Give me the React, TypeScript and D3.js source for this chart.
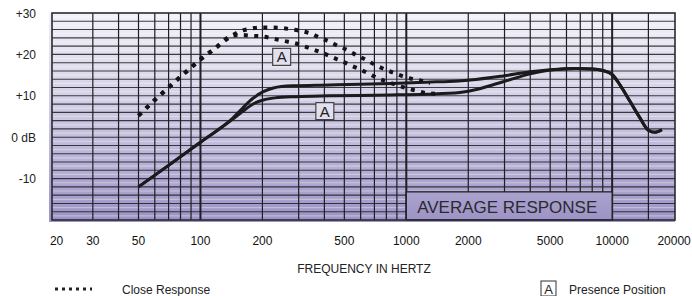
import * as d3 from 'd3';
import { useEffect, useRef } from 'react';

// close response (dotted) - normal and presence position
const closeFreq = [50, 60, 70, 83, 98, 118, 142, 156, 175, 195, 218, 244, 272, 305, 340, 381, 421, 468, 514, 568, 631, 697, 769, 850, 951, 1063, 1189, 1305];
const closeNormal = [5.2, 9.0, 12.0, 15.3, 18.4, 21.5, 24.5, 25.6, 26.2, 26.5, 26.5, 26.4, 26.1, 25.7, 25.1, 24.0, 23.1, 22.0, 21.1, 19.9, 18.8, 17.6, 16.6, 15.7, 14.8, 14.1, 13.6, 13.1];
const closePresenceFreq = [50, 60, 70, 83, 98, 118, 142, 156, 178, 202, 230, 258, 288, 322, 357, 395, 437, 486, 539, 596, 659, 731, 809, 899, 1005, 1124, 1258, 1406, 1470];
const closePresence = [5.2, 9.0, 12.0, 15.3, 18.4, 21.5, 24.5, 24.7, 24.5, 24.3, 23.7, 23.2, 22.7, 21.9, 21.1, 20.3, 19.3, 18.4, 17.3, 16.4, 15.3, 14.2, 13.4, 12.6, 11.8, 11.2, 10.6, 10.5, 10.5];

// average response (solid)
const avgFreq = [50, 70, 100, 142, 160, 180, 202, 226, 280, 420, 600, 850, 1250, 1800, 2040, 2960, 4000, 5000, 6700, 8000, 9000, 9960, 10930, 12230, 13670, 15000, 16170, 17440];
const avgNormal = [-12, -6.8, -1.2, 4.4, 7.0, 9.4, 11.0, 11.9, 12.4, 12.6, 12.8, 13.0, 13.3, 13.6, 13.8, 14.8, 15.8, 16.3, 16.6, 16.5, 16.1, 15.2, 12.6, 8.6, 4.6, 1.7, 1.2, 1.8];
const avgPresenceFreq = [50, 70, 100, 142, 160, 183, 202, 230, 290, 420, 850, 1250, 1820, 2000, 2960, 4000, 5000, 6700, 8000, 9000, 9960, 10930, 12230, 13670, 15000, 16170, 17440];
const avgPresence = [-12, -6.8, -1.2, 4.2, 6.2, 8.2, 9.0, 9.5, 9.8, 10.0, 10.2, 10.4, 10.8, 11.1, 13.4, 15.3, 16.2, 16.6, 16.5, 16.1, 15.2, 12.6, 8.6, 4.6, 1.7, 1.2, 1.8];

const xTicks = [20, 30, 50, 100, 200, 500, 1000, 2000, 5000, 10000, 20000];
const yTicks = [30, 20, 10, 0, -10];
const yTickLabels = ['+30', '+20', '+10', '0 dB', '-10'];
const gridFreqs = [30, 40, 50, 60, 70, 80, 90, 100, 200, 300, 400, 500, 600, 700, 800, 900, 1000, 2000, 3000, 4000, 5000, 6000, 7000, 8000, 9000, 10000, 15000];
const decades = [100, 1000, 10000];

// "A" markers: presence position, in Hz / dB
const presenceMarks = [{ f: 248, db: 19.4 }, { f: 402, db: 6.3 }];

const FONT = '"Liberation Sans", Arial, Helvetica, sans-serif';

export default function App() {
    const ref = useRef<SVGSVGElement | null>(null);

    useEffect(() => {
        const svg = d3.select(ref.current);
        svg.selectAll('*').remove();

        const width = 692;
        const height = 296;
        svg.attr('width', width).attr('height', height);

        const x = d3.scaleLog().domain([19, 20200]).range([52, 675]);
        const y = d3.scaleLinear().domain([-20, 30]).range([220, 13]);

        const grad = svg.append('defs').append('linearGradient')
            .attr('id', 'bg')
            .attr('gradientUnits', 'userSpaceOnUse')
            .attr('x1', 0).attr('y1', y(30))
            .attr('x2', 0).attr('y2', y(-20));
        grad.append('stop').attr('offset', '0%').attr('stop-color', '#f3f2f8');
        grad.append('stop').attr('offset', '50%').attr('stop-color', '#cdc8e2');
        grad.append('stop').attr('offset', '100%').attr('stop-color', '#9d94c6');

        svg.append('rect')
            .attr('x', x.range()[0] - 3).attr('y', y(30))
            .attr('width', x.range()[1] - x.range()[0] + 3)
            .attr('height', y(-20) - y(30) + 2)
            .attr('fill', 'url(#bg)');

        // light stripes between grid lines
        svg.append('g').selectAll('line')
            .data(d3.range(-19, 30, 2))
            .enter().append('line')
            .attr('x1', x.range()[0]).attr('x2', x.range()[1])
            .attr('y1', d => y(d)).attr('y2', d => y(d))
            .attr('stroke', '#ffffff').attr('stroke-opacity', 0.35).attr('stroke-width', 1.2);

        svg.append('g').selectAll('line')
            .data(d3.range(-18, 30, 2))
            .enter().append('line')
            .attr('x1', x.range()[0]).attr('x2', x.range()[1])
            .attr('y1', d => y(d)).attr('y2', d => y(d))
            .attr('stroke', '#1e1e24').attr('stroke-opacity', 0.85).attr('stroke-width', 1.1);

        svg.append('g').selectAll('line')
            .data(gridFreqs)
            .enter().append('line')
            .attr('x1', d => x(d)).attr('x2', d => x(d))
            .attr('y1', y(30)).attr('y2', y(-20))
            .attr('stroke', '#1e1e24')
            .attr('stroke-width', d => decades.includes(d) ? 2 : 1.2);

        // average response label box
        const bx0 = x(1000), bx1 = x(10000);
        svg.append('rect')
            .attr('x', bx0).attr('y', y(-13.2))
            .attr('width', bx1 - bx0).attr('height', y(-20) - y(-13.2))
            .attr('fill', 'url(#bg)')
            .attr('stroke', '#222').attr('stroke-width', 1.3);
        svg.append('text')
            .attr('x', (bx0 + bx1) / 2 - 2).attr('y', y(-20) - 7)
            .attr('text-anchor', 'middle')
            .attr('font-family', FONT).attr('font-size', 17)
            .attr('fill', '#2a2a2e')
            .text('AVERAGE RESPONSE');

        // frame
        svg.append('rect')
            .attr('x', x.range()[0]).attr('y', y(30))
            .attr('width', x.range()[1] - x.range()[0])
            .attr('height', y(-20) - y(30))
            .attr('fill', 'none')
            .attr('stroke', '#2a2a30').attr('stroke-width', 1.6);

        const line = (fs: number[]) => d3.line<number>()
            .x((_, i) => x(fs[i]))
            .y(d => y(d))
            .curve(d3.curveMonotoneX);

        const solid = [[avgFreq, avgNormal], [avgPresenceFreq, avgPresence]];
        solid.forEach(([fs, vs]) => {
            svg.append('path')
                .attr('d', line(fs)(vs))
                .attr('fill', 'none')
                .attr('stroke', '#1b1a1c')
                .attr('stroke-width', 3);
        });

        const dotted = [[closeFreq, closeNormal], [closePresenceFreq, closePresence]];
        dotted.forEach(([fs, vs]) => {
            svg.append('path')
                .attr('d', line(fs)(vs))
                .attr('fill', 'none')
                .attr('stroke', '#141316')
                .attr('stroke-width', 4)
                .attr('stroke-dasharray', '4 6.4');
        });

        // presence "A" marks
        presenceMarks.forEach(m => {
            const g = svg.append('g').attr('transform', `translate(${x(m.f)},${y(m.db)})`);
            g.append('rect')
                .attr('x', -9).attr('y', -8.5).attr('width', 18).attr('height', 17)
                .attr('fill', '#e2dfee')
                .attr('stroke', '#444').attr('stroke-width', 1.2);
            g.append('text')
                .attr('text-anchor', 'middle').attr('y', 5.5)
                .attr('font-family', FONT).attr('font-size', 15)
                .attr('fill', '#222')
                .text('A');
        });

        // y labels
        svg.append('g').selectAll('text')
            .data(yTicks)
            .enter().append('text')
            .attr('x', 36).attr('y', d => y(d) + 4.5)
            .attr('text-anchor', 'end')
            .attr('font-family', FONT).attr('font-size', 12)
            .attr('fill', '#222')
            .text((_, i) => yTickLabels[i]);

        // x labels
        svg.append('g').selectAll('text')
            .data(xTicks)
            .enter().append('text')
            .attr('x', d => x(d)).attr('y', 245)
            .attr('text-anchor', 'middle')
            .attr('font-family', FONT).attr('font-size', 12)
            .attr('fill', '#111')
            .text(d => String(d));

        svg.append('text')
            .attr('x', 364).attr('y', 273)
            .attr('text-anchor', 'middle')
            .attr('font-family', FONT).attr('font-size', 12)
            .attr('fill', '#222')
            .text('FREQUENCY IN HERTZ');

        // legend
        svg.append('line')
            .attr('x1', 55).attr('x2', 92).attr('y1', 289).attr('y2', 289)
            .attr('stroke', '#222').attr('stroke-width', 3)
            .attr('stroke-dasharray', '3 4');
        svg.append('text')
            .attr('x', 122).attr('y', 293.5)
            .attr('font-family', FONT).attr('font-size', 12)
            .attr('fill', '#222')
            .text('Close Response');

        svg.append('rect')
            .attr('x', 541).attr('y', 281).attr('width', 15).attr('height', 15)
            .attr('fill', 'none').attr('stroke', '#333').attr('stroke-width', 1);
        svg.append('text')
            .attr('x', 548.5).attr('y', 293.5)
            .attr('text-anchor', 'middle')
            .attr('font-family', FONT).attr('font-size', 13)
            .attr('fill', '#222')
            .text('A');
        svg.append('text')
            .attr('x', 569).attr('y', 293.5)
            .attr('font-family', FONT).attr('font-size', 12)
            .attr('fill', '#222')
            .text('Presence Position');
    }, []);

    return <svg ref={ref} style={{ position: 'absolute', left: 0, top: 0 }}></svg>;
}
